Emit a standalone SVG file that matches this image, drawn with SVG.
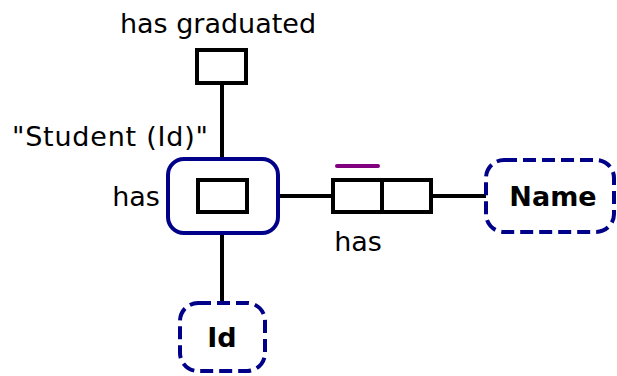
<svg xmlns="http://www.w3.org/2000/svg" width="617" height="376" viewBox="0 0 617 376">
<style>
.t{font-family:"DejaVu Sans",Verdana,sans-serif;font-size:27px;fill:#000}
.b{font-family:"DejaVu Sans",Verdana,sans-serif;font-size:27px;font-weight:bold;fill:#000}
.box{fill:#fff;stroke:#000;stroke-width:4}
.ln{stroke:#000;stroke-width:4;fill:none}
.ent{fill:#fff;stroke:#000088;stroke-width:4}
.val{fill:#fff;stroke:#000088;stroke-width:4;stroke-dasharray:13 6}
</style>
<rect width="617" height="376" fill="#fff"/>
<g id="connectors">
<line class="ln" x1="222" y1="83" x2="222" y2="160"/>
<line class="ln" x1="222" y1="212" x2="222" y2="304"/>
<line class="ln" x1="278" y1="196" x2="333" y2="196"/>
<line class="ln" x1="431" y1="196" x2="487" y2="196"/>
</g>
<g id="has_graduated">
<text class="t" x="218" y="33" text-anchor="middle">has graduated</text>
<rect class="box" x="197" y="50" width="49" height="33"/>
</g>
<g id="student">
<text class="t" x="110" y="146" text-anchor="middle" textLength="196">"Student (Id)"</text>
<rect class="ent" x="168" y="159" width="110" height="74" rx="16"/>
</g>
<g id="has_id">
<text class="t" x="136" y="206" text-anchor="middle">has</text>
<rect class="box" x="198" y="180" width="49" height="32"/>
</g>
<g id="has_name">
<line x1="337" y1="166" x2="378" y2="166" stroke="#800080" stroke-width="4" stroke-linecap="round"/>
<rect class="box" x="333" y="180" width="98" height="32"/>
<line class="ln" x1="382" y1="180" x2="382" y2="212"/>
<text class="t" x="358" y="251" text-anchor="middle">has</text>
</g>
<g id="name">
<rect class="val" x="486" y="160" width="128" height="72" rx="18"/>
<text class="b" x="553" y="206" text-anchor="middle">Name</text>
</g>
<g id="id">
<rect class="val" x="180" y="303" width="85" height="68" rx="18"/>
<text class="b" x="222" y="347" text-anchor="middle">Id</text>
</g>
</svg>
